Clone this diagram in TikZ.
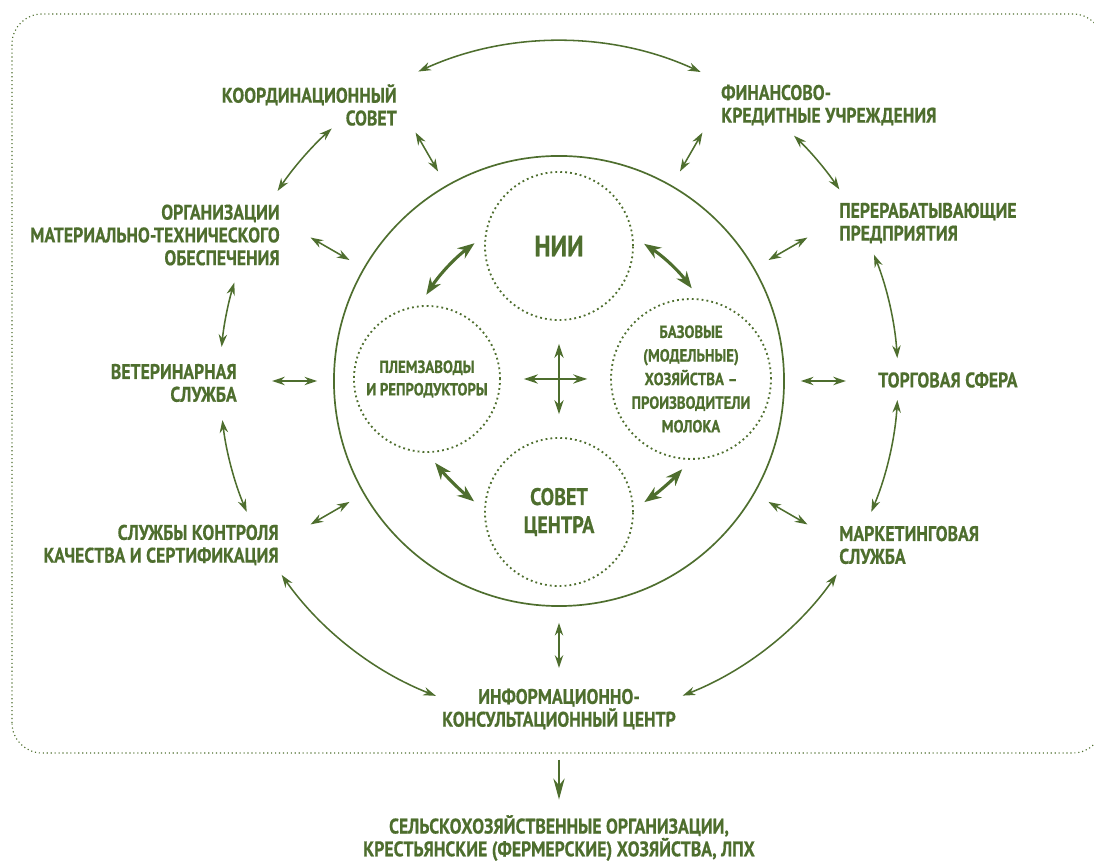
\documentclass[tikz,border=0pt]{standalone}
\usepackage{fontspec}
\setmainfont{PT Sans}[FakeStretch=0.84, BoldFeatures={FakeBold=0.6}]
\usetikzlibrary{arrows.meta}
\definecolor{leaf}{RGB}{78,110,46}

\begin{document}
\begin{tikzpicture}[
        x=0.025cm, y=0.025cm,
        lbl/.style={text=leaf, inner sep=0pt, font=\bfseries\fontsize{15}{16.2}\selectfont},
        unit/.style={circle, draw=leaf, line width=1.3pt, dash pattern=on 1.3pt off 2.2pt, minimum size=3.7cm, inner sep=0pt, align=center, text=leaf},
        frame/.style={draw=leaf, line width=0.8pt, dash pattern=on 0.8pt off 2pt, rounded corners=0.75cm},
        ringlink/.style={draw=leaf, line width=1.1pt, {Stealth[length=9pt,width=6pt]}-{Stealth[length=9pt,width=6pt]}},
        innerlink/.style={draw=leaf, line width=2.2pt, {Stealth[length=12pt,width=9pt]}-{Stealth[length=12pt,width=9pt]}, shorten <=0.32cm, shorten >=0.32cm},
        crosslink/.style={draw=leaf, line width=1.5pt, {Stealth[length=10pt,width=6.5pt]}-{Stealth[length=10pt,width=6.5pt]}, shorten <=0.57cm, shorten >=0.57cm},
        outlink/.style={draw=leaf, line width=1.6pt, -{Stealth[length=15pt,width=8pt]}}
    ]
        \useasboundingbox (0,0) rectangle (1094,861);
        \draw[frame] (12,108) rectangle (1103,847);

        % centre and inner units
        \coordinate (ctr) at (559,481);
        \node[draw=leaf, circle, line width=1.2pt, minimum size=11.25cm, inner sep=0pt] (ring) at (559,480) {};
        \node[unit, font=\bfseries\fontsize{21}{22}\selectfont] (nii) at (559,615) {НИИ};
        \node[unit, minimum size=3.65cm, font=\bfseries\fontsize{12.5}{16}\selectfont] (plem) at (427,482) {ПЛЕМЗАВОДЫ\\И РЕПРОДУКТОРЫ};
        \node[unit, minimum size=3.65cm, font=\bfseries\fontsize{12.5}{16.8}\selectfont] (base) at (691,482) {БАЗОВЫЕ\\(МОДЕЛЬНЫЕ)\\ХОЗЯЙСТВА –\\ПРОИЗВОДИТЕЛИ\\МОЛОКА};
        \node[unit, font=\bfseries\fontsize{17}{20}\selectfont] (sovet) at (559,349) {СОВЕТ\\ЦЕНТРА};

        % outer partners
        \node[lbl, anchor=east, align=right] (koord) at (397,756) {КООРДИНАЦИОННЫЙ\\СОВЕТ};
        \node[lbl, anchor=east, align=right] (org) at (280,626) {ОРГАНИЗАЦИИ\\МАТЕРИАЛЬНО-ТЕХНИЧЕСКОГО\\ОБЕСПЕЧЕНИЯ};
        \node[lbl, anchor=east, align=right] (vet) at (237,478) {ВЕТЕРИНАРНАЯ\\СЛУЖБА};
        \node[lbl, anchor=east, align=right] (kontrol) at (279,316) {СЛУЖБЫ КОНТРОЛЯ\\КАЧЕСТВА И СЕРТИФИКАЦИЯ};
        \node[lbl, anchor=west, align=left] (fin) at (721,756) {ФИНАНСОВО-\\КРЕДИТНЫЕ УЧРЕЖДЕНИЯ};
        \node[lbl, anchor=west, align=left] (pererab) at (839,638) {ПЕРЕРАБАТЫВАЮЩИЕ\\ПРЕДПРИЯТИЯ};
        \node[lbl, anchor=west, align=left] (torg) at (878,481) {ТОРГОВАЯ СФЕРА};
        \node[lbl, anchor=west, align=left] (market) at (839,316) {МАРКЕТИНГОВАЯ\\СЛУЖБА};
        \node[lbl, align=center] (info) at (559,152) {ИНФОРМАЦИОННО-\\КОНСУЛЬТАЦИОННЫЙ ЦЕНТР};
        \node[lbl, align=center] (selhoz) at (559,23) {СЕЛЬСКОХОЗЯЙСТВЕННЫЕ ОРГАНИЗАЦИИ,\\КРЕСТЬЯНСКИЕ (ФЕРМЕРСКИЕ) ХОЗЯЙСТВА, ЛПХ};

        % links inside the ring
        \draw[innerlink] (plem.96) to[bend left=10] (nii.172);
        \draw[innerlink] (nii.7) to[bend left=10] (base.84);
        \draw[innerlink] (base.270) to[bend left=6] (sovet.2);
        \draw[innerlink] (sovet.178) to[bend left=6] (plem.270);
        \draw[crosslink] (nii) -- (sovet);
        \draw[crosslink] (plem) -- (base);

        % ring to partners
        \foreach \a in {0,30,60,120,150,180,210,270,330}
            \draw[ringlink] ([shift={(\a:16)}]ring.\a) -- ([shift={(\a:61)}]ring.\a);

        % partners to each other, along the outer ring
        \foreach \s/\e in {65.3/114.5, 132.1/146.1, 163.3/174.4, 186.8/202.9, 215.1/248.7, 291.4/325, 337.1/356.6, 3.7/21.7, 34.2/46.1}
            \draw[ringlink] ([shift={(\s:339)}]ctr) arc[start angle=\s, end angle=\e, radius=8.475cm];

        \draw[outlink, shorten <=0.75cm, shorten >=0.38cm] (info) -- (selhoz);
    \end{tikzpicture}
\end{document}
